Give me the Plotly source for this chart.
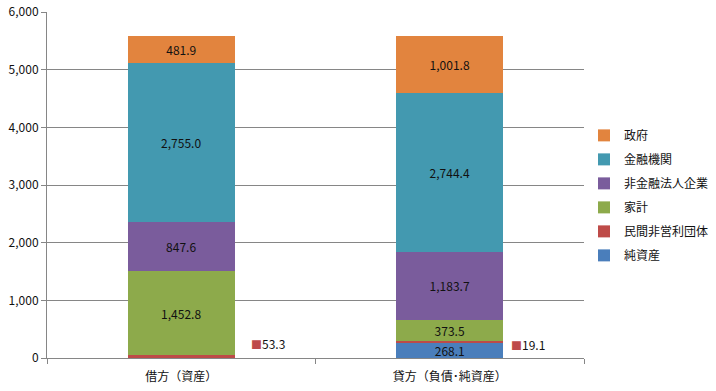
import plotly.graph_objects as go

categories = ["借方（資産）", "貸方（負債･純資産）"]
series_names = ["純資産", "民間非営利団体", "家計", "非金融法人企業", "金融機関", "政府"]
junshisan = [0.0, 268.1]
minkan = [53.3, 19.1]
kakei = [1452.8, 373.5]
hikinyu = [847.6, 1183.7]
kinyu = [2755.0, 2744.4]
seifu = [481.9, 1001.8]
y_ticks = [0, 1000, 2000, 3000, 4000, 5000, 6000]

series_values = [junshisan, minkan, kakei, hikinyu, kinyu, seifu]
colors = ["#4A7EBB", "#BE4B48", "#8DAA4B", "#7A5C9C", "#4399B0", "#E2843E"]
FONT = "Noto Sans CJK JP"

fig = go.Figure()
for i, (name, vals, col) in enumerate(zip(series_names, series_values, colors)):
    if name == "民間非営利団体":
        txt = ["" for v in vals]
    else:
        txt = [f"{v:,.1f}" if v > 0 else "" for v in vals]
    fig.add_trace(go.Bar(
        x=categories, y=vals, name=name, marker=dict(color=col, line=dict(width=0)),
        text=txt, textposition="inside", insidetextanchor="middle",
        textfont=dict(family=FONT, size=12, color="#111111"),
        constraintext="none", width=0.4, legendgroup=name,
        legendrank=100 - i,
        hoverinfo="skip",
    ))

# outside labels for 民間非営利団体
label_shifts = [68, 59]
for cat, v, sh in zip(categories, minkan, label_shifts):
    fig.add_annotation(
        x=cat, y=v / 2, xref="x", yref="y", showarrow=False,
        text=f"<span style='color:#BE4B48;font-size:11px'>■</span>{v:,.1f}",
        xanchor="left", yanchor="middle", xshift=sh, yshift=13,
        font=dict(family=FONT, size=12, color="#111111"),
    )

fig.update_layout(
    barmode="stack",
    width=716, height=391,
    margin=dict(l=47, r=132, t=12, b=33, autoexpand=False),
    paper_bgcolor="white", plot_bgcolor="white",
    font=dict(family=FONT, size=12, color="#111111"),
    legend=dict(x=1.0, y=0.47, xanchor="left", yanchor="middle",
                traceorder="grouped", tracegroupgap=5,
                font=dict(family=FONT, size=12, color="#111111"),
                itemwidth=30),
    showlegend=True,
)
fig.update_yaxes(
    range=[0, 6000], tickvals=y_ticks, tickformat=",d",
    showgrid=True, gridcolor="#868686", gridwidth=1,
    showline=True, linecolor="#868686", linewidth=1,
    ticks="outside", ticklen=5, tickcolor="#868686",
    zeroline=False, tickfont=dict(family=FONT, size=12), automargin=False,
)
fig.update_xaxes(
    showline=True, linecolor="#868686", linewidth=1,
    ticks="outside", ticklen=5, tickcolor="#868686", tickson="boundaries",
    tickfont=dict(family=FONT, size=12), automargin=False,
    ticklabelstandoff=8,
)

fig.write_html("out.html", config={"displayModeBar": False},
               post_script="document.body.style.margin='0';document.body.style.overflow='hidden';")
